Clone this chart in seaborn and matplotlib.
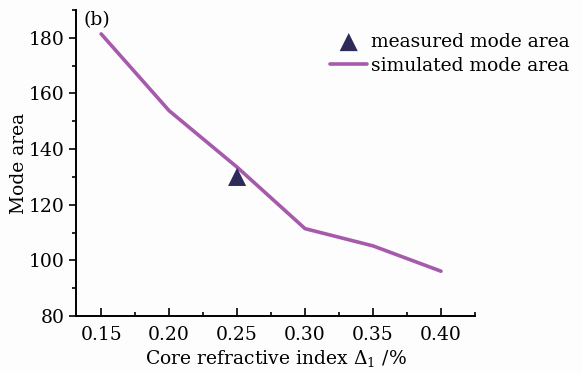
import matplotlib
matplotlib.use("Agg")
import matplotlib.pyplot as plt
from matplotlib.ticker import MultipleLocator
import seaborn as sns
import pandas as pd

# Data
core_index = [0.15, 0.20, 0.25, 0.30, 0.35, 0.40]
simulated_area = [181.4, 153.8, 133.5, 111.4, 105.2, 96.1]
measured_index = [0.25]
measured_area = [130.0]

sim_df = pd.DataFrame({"index": core_index, "area": simulated_area})
meas_df = pd.DataFrame({"index": measured_index, "area": measured_area})

sns.set_style("ticks")
plt.rcParams["font.family"] = ["DejaVu Serif"]
plt.rcParams["mathtext.fontset"] = "dejavuserif"
plt.rcParams["text.color"] = "black"
plt.rcParams["axes.labelcolor"] = "black"
plt.rcParams["xtick.color"] = "black"
plt.rcParams["ytick.color"] = "black"
plt.rcParams["axes.edgecolor"] = "black"

fig = plt.figure(figsize=(5.82, 3.73), dpi=100)
ax = fig.add_axes([76 / 582, 57 / 373, 399 / 582, 306 / 373])
fig.patch.set_facecolor("#fdfdfd")
ax.set_facecolor("#fdfdfd")

sns.scatterplot(data=meas_df, x="index", y="area", marker="^", s=170,
                color="#2e2b5a", edgecolor="none", ax=ax,
                label="measured mode area", zorder=3)
sns.lineplot(data=sim_df, x="index", y="area", color="#a55aab",
             linewidth=2.6, ax=ax, label="simulated mode area")

ax.set_xlim(0.1315, 0.425)
ax.set_ylim(80, 190)
ax.xaxis.set_major_locator(MultipleLocator(0.05))
ax.xaxis.set_minor_locator(MultipleLocator(0.025))
ax.yaxis.set_major_locator(MultipleLocator(20))
ax.yaxis.set_minor_locator(MultipleLocator(10))
ax.set_xticks([0.15, 0.20, 0.25, 0.30, 0.35, 0.40])
ax.set_xticklabels(["0.15", "0.20", "0.25", "0.30", "0.35", "0.40"])
ax.set_yticks([80, 100, 120, 140, 160, 180])

ax.tick_params(axis="x", which="major", direction="in", length=6, width=1.2,
               labelsize=13.5, pad=7)
ax.tick_params(axis="x", which="minor", direction="in", length=3, width=1.2)
ax.tick_params(axis="y", which="major", direction="out", length=5, width=1.2,
               labelsize=13.5, pad=3)
ax.tick_params(axis="y", which="minor", direction="out", length=3, width=1.2)

for side in ["top", "right"]:
    ax.spines[side].set_visible(False)
for side in ["left", "bottom"]:
    ax.spines[side].set_linewidth(1.4)

ax.set_xlabel(r"Core refractive index $\Delta_1$ /%", fontsize=13.5, labelpad=3)
ax.set_ylabel("Mode area", fontsize=13.5, labelpad=1)
ax.text(0.02, 0.995, "(b)", transform=ax.transAxes, fontsize=13.5,
        ha="left", va="top")

leg = ax.legend(loc="upper right", bbox_to_anchor=(1.28, 0.98), frameon=False,
                fontsize=13.5, handlelength=2.0, handletextpad=0.2,
                labelspacing=0.3)

fig.savefig("out.png", dpi=100, facecolor=fig.get_facecolor())
